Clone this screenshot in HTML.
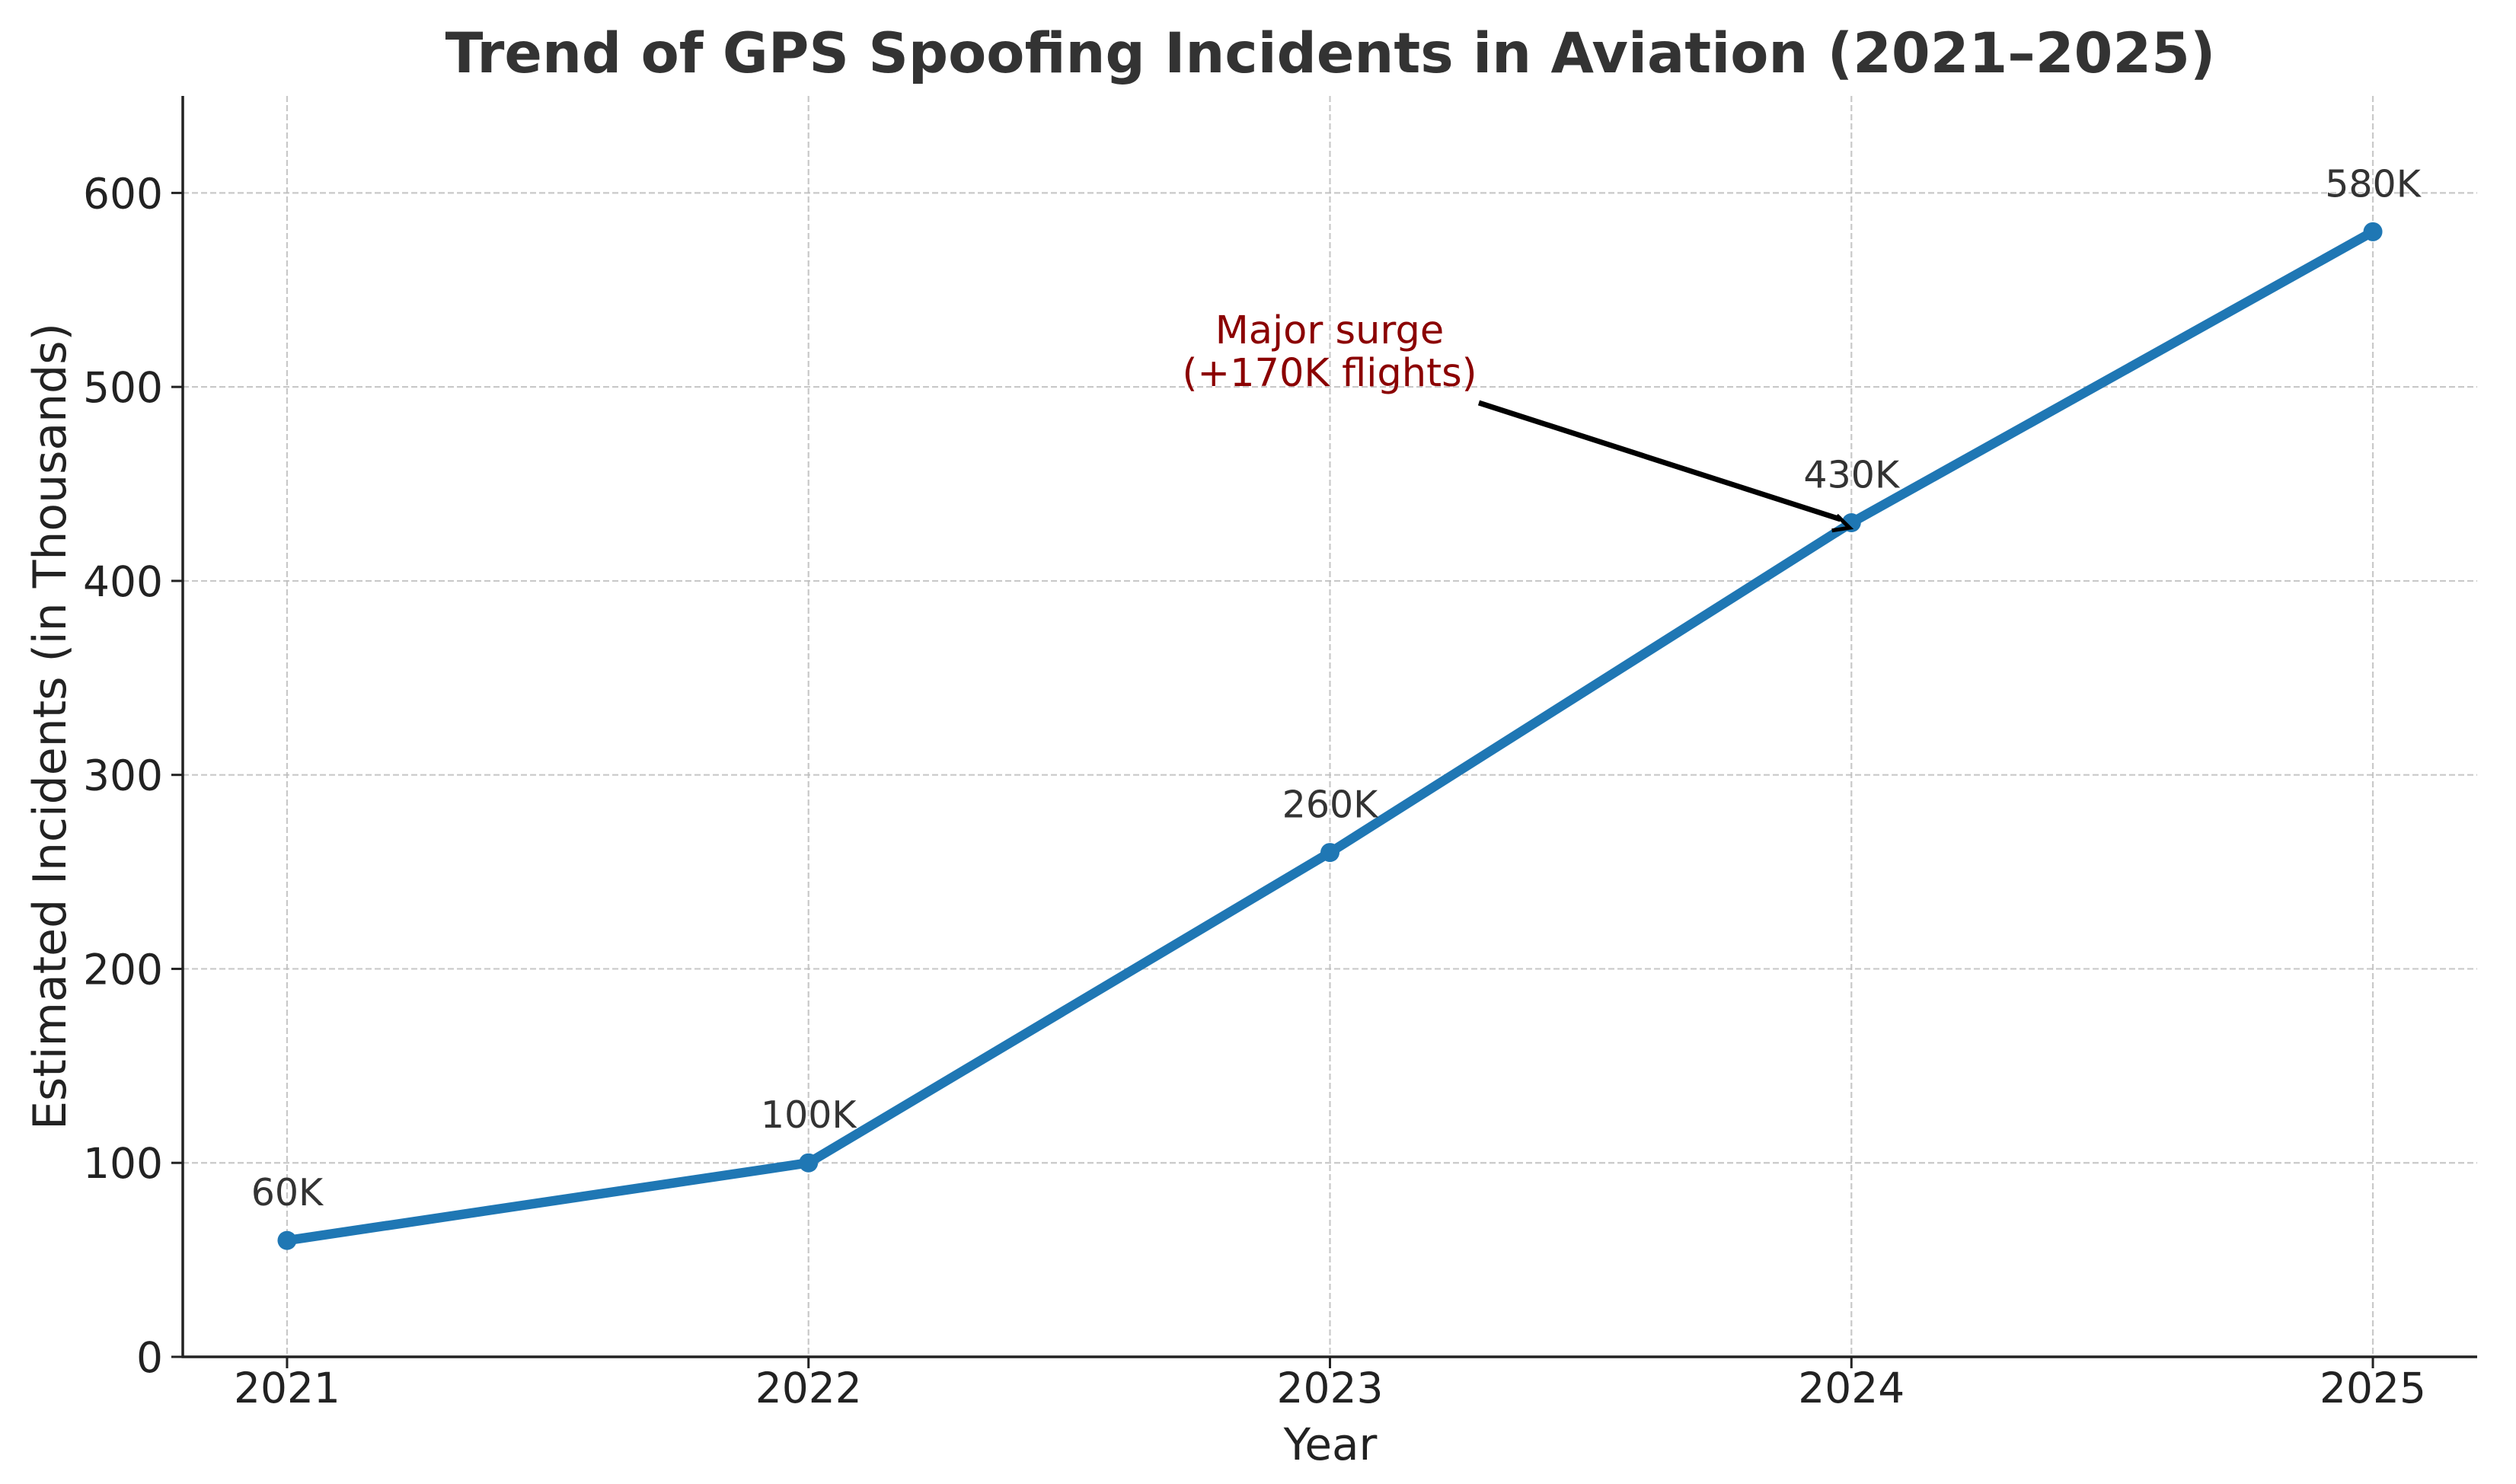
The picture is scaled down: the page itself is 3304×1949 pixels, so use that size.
<!DOCTYPE html>
<html><head><meta charset="utf-8"><style>
html,body{margin:0;padding:0;background:#fff;}
svg{display:block;font-family:"DejaVu Sans","Liberation Sans",sans-serif;}
</style></head><body>
<svg id="chart" width="3304" height="1949" viewBox="0 0 3304 1949" xmlns="http://www.w3.org/2000/svg">
<defs><marker id="ah" viewBox="0 0 10 10" refX="9" refY="5" markerWidth="7" markerHeight="7" orient="auto" markerUnits="userSpaceOnUse" style="overflow:visible"><path d="M0,0 L10,5 L0,10" fill="none" stroke="#000" stroke-width="2.4" transform="scale(3)" /></marker></defs>
<text x="1747" y="95" text-anchor="middle" font-size="73" font-weight="bold" fill="#333">Trend of GPS Spoofing Incidents in Aviation (2021–2025)</text>
<g id="grid"></g><g id="axes"></g><g id="series"></g>
<text x="1747" y="1917" text-anchor="middle" font-size="58" fill="#222">Year</text>
<text transform="translate(86,954) rotate(-90)" text-anchor="middle" font-size="60" fill="#222">Estimated Incidents (in Thousands)</text>
<g>
<text x="1746" y="451" text-anchor="middle" font-size="51" fill="#8b0000">Major surge</text>
<text x="1746" y="507" text-anchor="middle" font-size="51" fill="#8b0000">(+170K flights)</text>
<line x1="1942" y1="529" x2="2417" y2="682" stroke="#000" stroke-width="7" marker-end="url(#ah)"/>
</g>
</svg>
<script>
const years = [2021, 2022, 2023, 2024, 2025];
const incidents = [60, 100, 260, 430, 580];
const pointLabels = ["60K", "100K", "260K", "430K", "580K"];
const yTicks = [0, 100, 200, 300, 400, 500, 600];

const L=240,R=3253,T=126,B=1782;
const xMin=2020.8,xMax=2025.2,yMin=0,yMax=650;
const sx=v=>L+(v-xMin)/(xMax-xMin)*(R-L);
const sy=v=>B-(v-yMin)/(yMax-yMin)*(B-T);
const NS="http://www.w3.org/2000/svg";
function mk(tag,attrs,parent,text){const e=document.createElementNS(NS,tag);for(const k in attrs)e.setAttribute(k,attrs[k]);if(text!==undefined)e.textContent=text;parent.appendChild(e);return e;}
const grid=document.getElementById('grid'),axes=document.getElementById('axes'),series=document.getElementById('series');
yTicks.forEach(t=>{
  const y=sy(t);
  if(t>0){const g=mk('line',{x1:L,x2:R,y1:y,y2:y,stroke:'#bbb','stroke-width':2.2,'stroke-dasharray':'8,4','stroke-opacity':0.8},grid);
  
  }
  const tk=mk('line',{x1:L-15,x2:L,y1:y,y2:y,stroke:'#222','stroke-width':3},axes);
  
  
  const lb=mk('text',{x:L-26,y:y+20,'text-anchor':'end','font-size':55,fill:'#222'},axes,String(t));
  
  
});
years.forEach(yr=>{
  const x=sx(yr);
  const g=mk('line',{x1:x,x2:x,y1:T,y2:B,stroke:'#bbb','stroke-width':2.2,'stroke-dasharray':'8,4','stroke-opacity':0.8},grid);
  
  
  const tk=mk('line',{x1:x,x2:x,y1:B,y2:B+15,stroke:'#222','stroke-width':3},axes);
  
  
  const lb=mk('text',{x:x,y:1842,'text-anchor':'middle','font-size':55,fill:'#222'},axes,String(yr));
  
  
});
const ay=mk('line',{x1:L,x2:L,y1:T,y2:B+1.5,stroke:'#222','stroke-width':3.5},axes);


const ax=mk('line',{x1:L-1.5,x2:R,y1:B,y2:B,stroke:'#222','stroke-width':3.5},axes);


const pts=years.map((yr,i)=>sx(yr)+','+sy(incidents[i])).join(' ');
const pl=mk('polyline',{points:pts,fill:'none',stroke:'#1f77b4','stroke-width':12.5,'stroke-linejoin':'round','stroke-linecap':'butt'},series);


years.forEach((yr,i)=>{
  const c=mk('circle',{cx:sx(yr),cy:sy(incidents[i]),r:12.5,fill:'#1f77b4'},series);
  
  
  const t=mk('text',{x:sx(yr),y:sy(incidents[i])-46,'text-anchor':'middle','font-size':49,fill:'#333'},series,pointLabels[i]);
  
  
});
</script>
</body></html>
